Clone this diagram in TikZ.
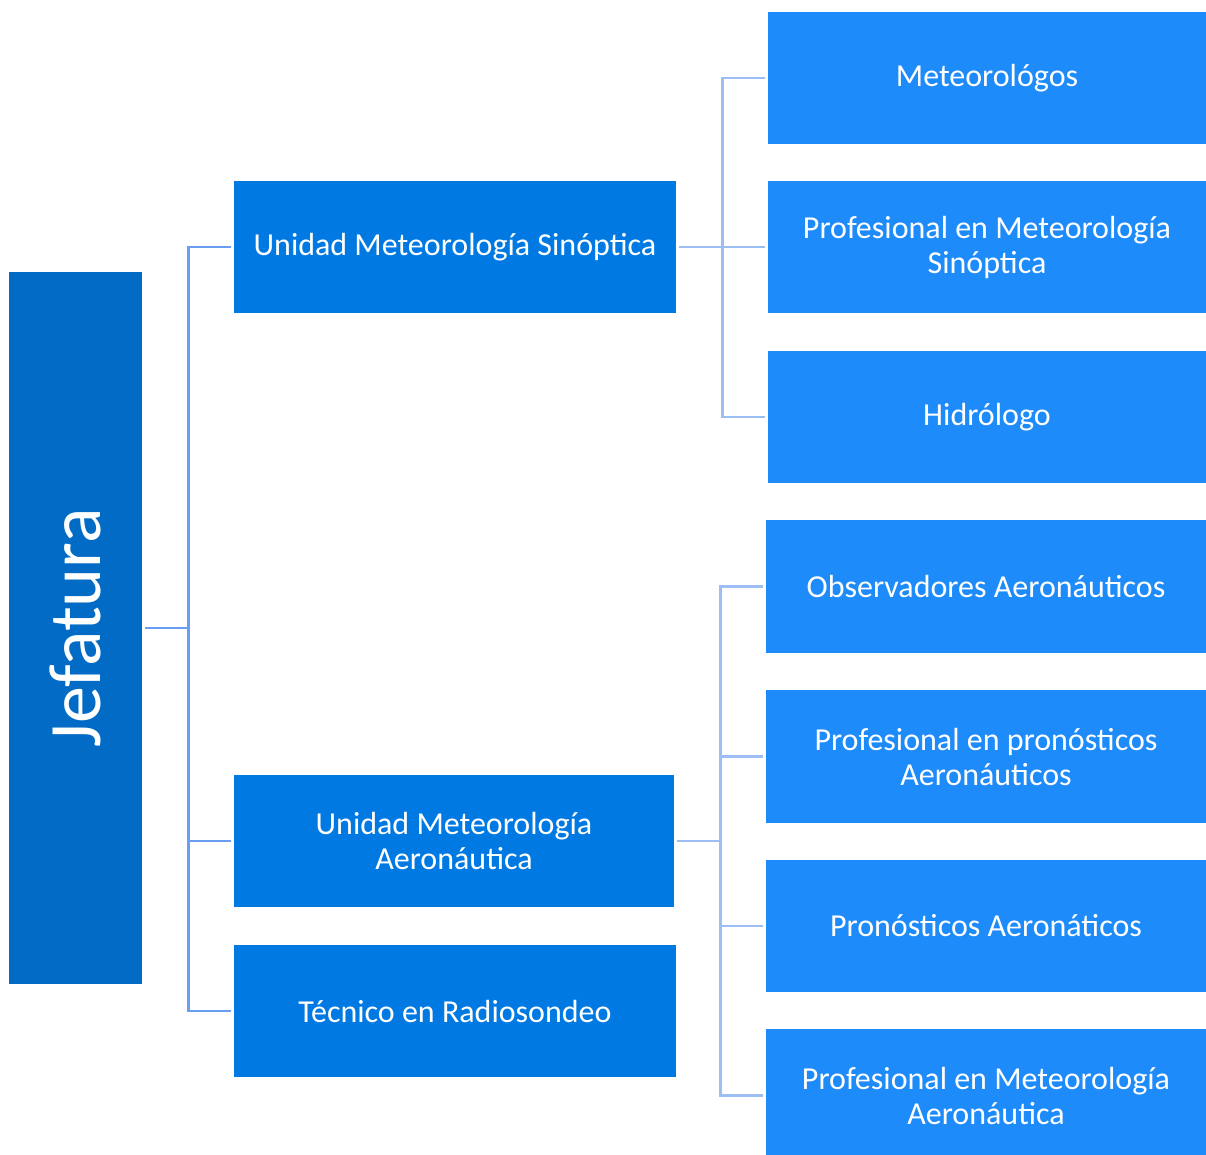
\documentclass[tikz,border=0pt]{standalone}
\usepackage{fontspec}
\setmainfont{Carlito}
\begin{document}
\definecolor{jefblue}{RGB}{2,107,198}
\definecolor{unitblue}{RGB}{0,122,226}
\definecolor{staffblue}{RGB}{30,139,250}
\definecolor{linkdark}{RGB}{106,158,245}
\definecolor{linklight}{RGB}{157,189,245}
\begin{tikzpicture}[x=1pt,y=-1pt,
  box/.style={rectangle, inner sep=0pt, text=white, align=center,
    font=\fontsize{32}{35}\selectfont},
  unitbox/.style={box, fill=unitblue, minimum width=442pt, minimum height=132pt},
  staffbox/.style={box, fill=staffblue, minimum height=132pt},
  linkA/.style={draw=linkdark, line width=2.6pt},
  linkB/.style={draw=linklight, line width=2.6pt}]
\useasboundingbox (0,0) rectangle (1206,1155);
% head of the office
\node[box, fill=jefblue, minimum width=133pt, minimum height=712pt] (jef) at (75.5,628)
  {\rotatebox{90}{\fontsize{74}{76}\selectfont Jefatura}};
% units
\node[unitbox] (ums) at (455,247) {Unidad Meteorología Sinóptica};
\node[unitbox, minimum width=440pt] (uma) at (454,841) {Unidad Meteorología\\Aeronáutica};
\node[unitbox] (tr) at (455,1011) {Técnico en Radiosondeo};
% staff of the synoptic unit
\node[staffbox, minimum width=438pt] (met) at (987,78) {Meteorológos};
\node[staffbox, minimum width=438pt] (pms) at (987,247) {Profesional en Meteorología\\Sinóptica};
\node[staffbox, minimum width=438pt] (hid) at (987,417) {Hidrólogo};
% staff of the aeronautical unit
\node[staffbox, minimum width=440pt, minimum height=133pt] (obs) at (986,586.5) {Observadores Aeronáuticos};
\node[staffbox, minimum width=440pt, minimum height=133pt] (ppa) at (986,756.5) {Profesional en pronósticos\\Aeronáuticos};
\node[staffbox, minimum width=440pt] (pra) at (986,926) {Pronósticos Aeronáticos};
\node[staffbox, minimum width=440pt, minimum height=133pt] (pma) at (986,1095.5) {Profesional en Meteorología\\Aeronáutica};
% connectors from the head
\draw[linkA] ([xshift=3pt]jef.east) -- ++(43,0) coordinate (j);
\draw[linkA] (j) |- ([xshift=-3pt]ums.west);
\draw[linkA] (j) |- ([xshift=-3pt]uma.west);
\draw[linkA] (j) |- ([xshift=-3pt]tr.west);
% connectors of the synoptic unit
\draw[linkB] ([xshift=3pt]ums.east) -- ++(43,0) coordinate (s);
\draw[linkB] (s) |- ([xshift=-3pt]met.west);
\draw[linkB] (s) -- ([xshift=-3pt]pms.west);
\draw[linkB] (s) |- ([xshift=-3pt]hid.west);
% connectors of the aeronautical unit
\draw[linkB] ([xshift=3pt]uma.east) -- ++(43,0) coordinate (a);
\draw[linkB] (a) |- ([xshift=-3pt]obs.west);
\draw[linkB] (a) |- ([xshift=-3pt]ppa.west);
\draw[linkB] (a) |- ([xshift=-3pt]pra.west);
\draw[linkB] (a) |- ([xshift=-3pt]pma.west);
\end{tikzpicture}
\end{document}
